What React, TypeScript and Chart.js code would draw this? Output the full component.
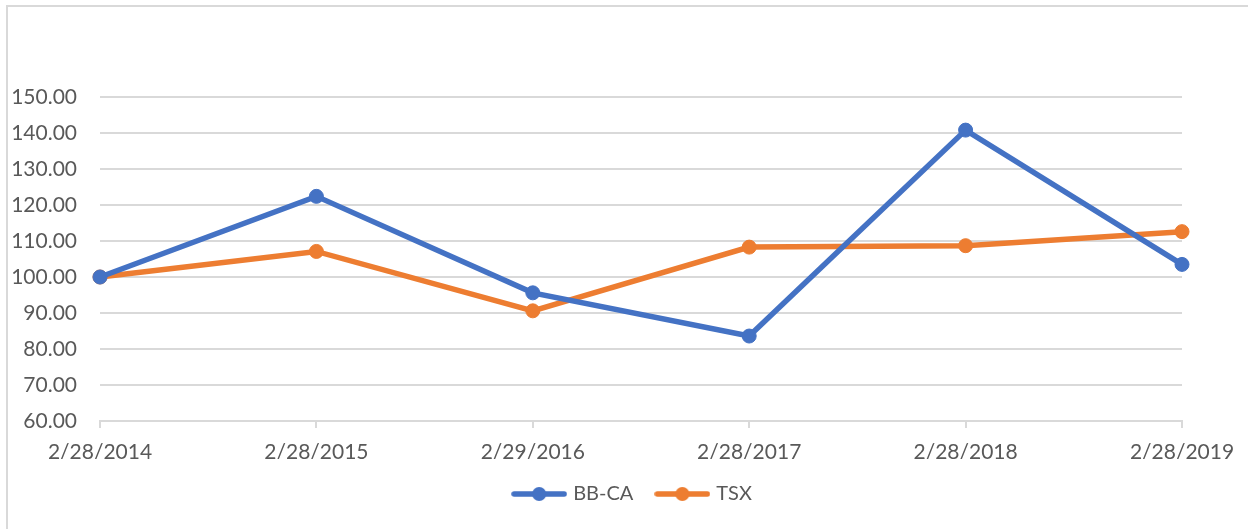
import React, { useEffect, useRef } from "react";
import { Chart, registerables } from "chart.js";

Chart.register(...registerables);

const categories = ["2/28/2014", "2/28/2015", "2/29/2016", "2/28/2017", "2/28/2018", "2/28/2019"];
const bbcaValues = [100, 122.4, 95.6, 83.6, 140.8, 103.5];
const tsxValues = [100, 107.1, 90.6, 108.3, 108.7, 112.6];
const seriesNames = ["BB-CA", "TSX"];
const seriesColors = ["#4472C4", "#ED7D31"];
const yMin = 60;
const yMax = 150;
const yStep = 10;

const FONT = "Lato, 'Open Sans', sans-serif";
const TEXT = "#595959";
const GRID = "#d9d9d9";

function legendIcon(color: string): HTMLCanvasElement {
  const c = document.createElement("canvas");
  c.width = 56;
  c.height = 16;
  const ctx = c.getContext("2d")!;
  ctx.strokeStyle = color;
  ctx.lineWidth = 5.5;
  ctx.lineCap = "round";
  ctx.beginPath();
  ctx.moveTo(3, 8);
  ctx.lineTo(53, 8);
  ctx.stroke();
  ctx.fillStyle = color;
  ctx.beginPath();
  ctx.arc(28, 8, 7, 0, Math.PI * 2);
  ctx.fill();
  return c;
}

const frame = {
  id: "frame",
  beforeDraw(chart: any) {
    const ctx = chart.ctx;
    ctx.save();
    ctx.fillStyle = "#ffffff";
    ctx.fillRect(0, 0, chart.width, chart.height);
    ctx.fillStyle = GRID;
    ctx.fillRect(6, 5, chart.width - 6, 2);
    ctx.fillRect(6, 5, 2, chart.height - 5);
    ctx.restore();
    // center legend over the region used in the reference
    if (chart.legend) {
      chart.legend.left = 85;
    }
  },
};

export default function App() {
  const ref = useRef<HTMLCanvasElement | null>(null);
  useEffect(() => {
    if (!ref.current) return;
    const icons = seriesColors.map(legendIcon);
    const chart = new Chart(ref.current, {
      type: "line",
      data: {
        labels: categories,
        datasets: [
          {
            label: seriesNames[0],
            data: bbcaValues,
            borderColor: seriesColors[0],
            backgroundColor: seriesColors[0],
            borderWidth: 5.5,
            pointRadius: 7,
            pointBorderWidth: 1,
            pointHoverRadius: 7,
            tension: 0,
          },
          {
            label: seriesNames[1],
            data: tsxValues,
            borderColor: seriesColors[1],
            backgroundColor: seriesColors[1],
            borderWidth: 5.5,
            pointRadius: 7,
            pointBorderWidth: 1,
            pointHoverRadius: 7,
            tension: 0,
          },
        ],
      },
      options: {
        responsive: false,
        animation: false,
        devicePixelRatio: 1,
        layout: { padding: { top: 97, right: 66, bottom: 15, left: 0 } },
        plugins: {
          tooltip: { enabled: false },
          legend: {
            position: "bottom",
            labels: {
              usePointStyle: true,
              pointStyleWidth: 48,
              padding: 25,
              color: TEXT,
              font: { family: FONT, size: 20 },
              generateLabels: (ch: any) => {
                const items = Chart.defaults.plugins.legend.labels.generateLabels(ch);
                items.forEach((it: any, i: number) => {
                  it.pointStyle = icons[i];
                });
                return items;
              },
            },
          },
        },
        scales: {
          x: {
            offset: false,
            grid: {
              drawOnChartArea: false,
              drawTicks: true,
              tickLength: 7,
              color: GRID,
              lineWidth: 2,
              offset: false,
            },
            border: { display: true, color: GRID, width: 2 },
            ticks: {
              color: TEXT,
              font: { family: FONT, size: 21 },
              padding: 12,
              maxRotation: 0,
              autoSkip: false,
            },
            afterFit: (s: any) => {
              s.height = 38;
            },
          },
          y: {
            min: yMin,
            max: yMax,
            grid: { color: GRID, lineWidth: 2, drawTicks: false },
            border: { display: false },
            ticks: {
              stepSize: yStep,
              color: TEXT,
              font: { family: FONT, size: 21 },
              padding: 23,
              callback: (v: any) => Number(v).toFixed(2),
            },
            afterFit: (s: any) => {
              s.width = 100;
            },
          },
        },
      },
      plugins: [frame],
    });
    return () => chart.destroy();
  }, []);
  return (
    <div style={{ position: "absolute", left: 0, top: 0, width: 1248, height: 529 }}>
      <canvas ref={ref} width={1248} height={529} style={{ width: 1248, height: 529, display: "block" }} />
    </div>
  );
}
